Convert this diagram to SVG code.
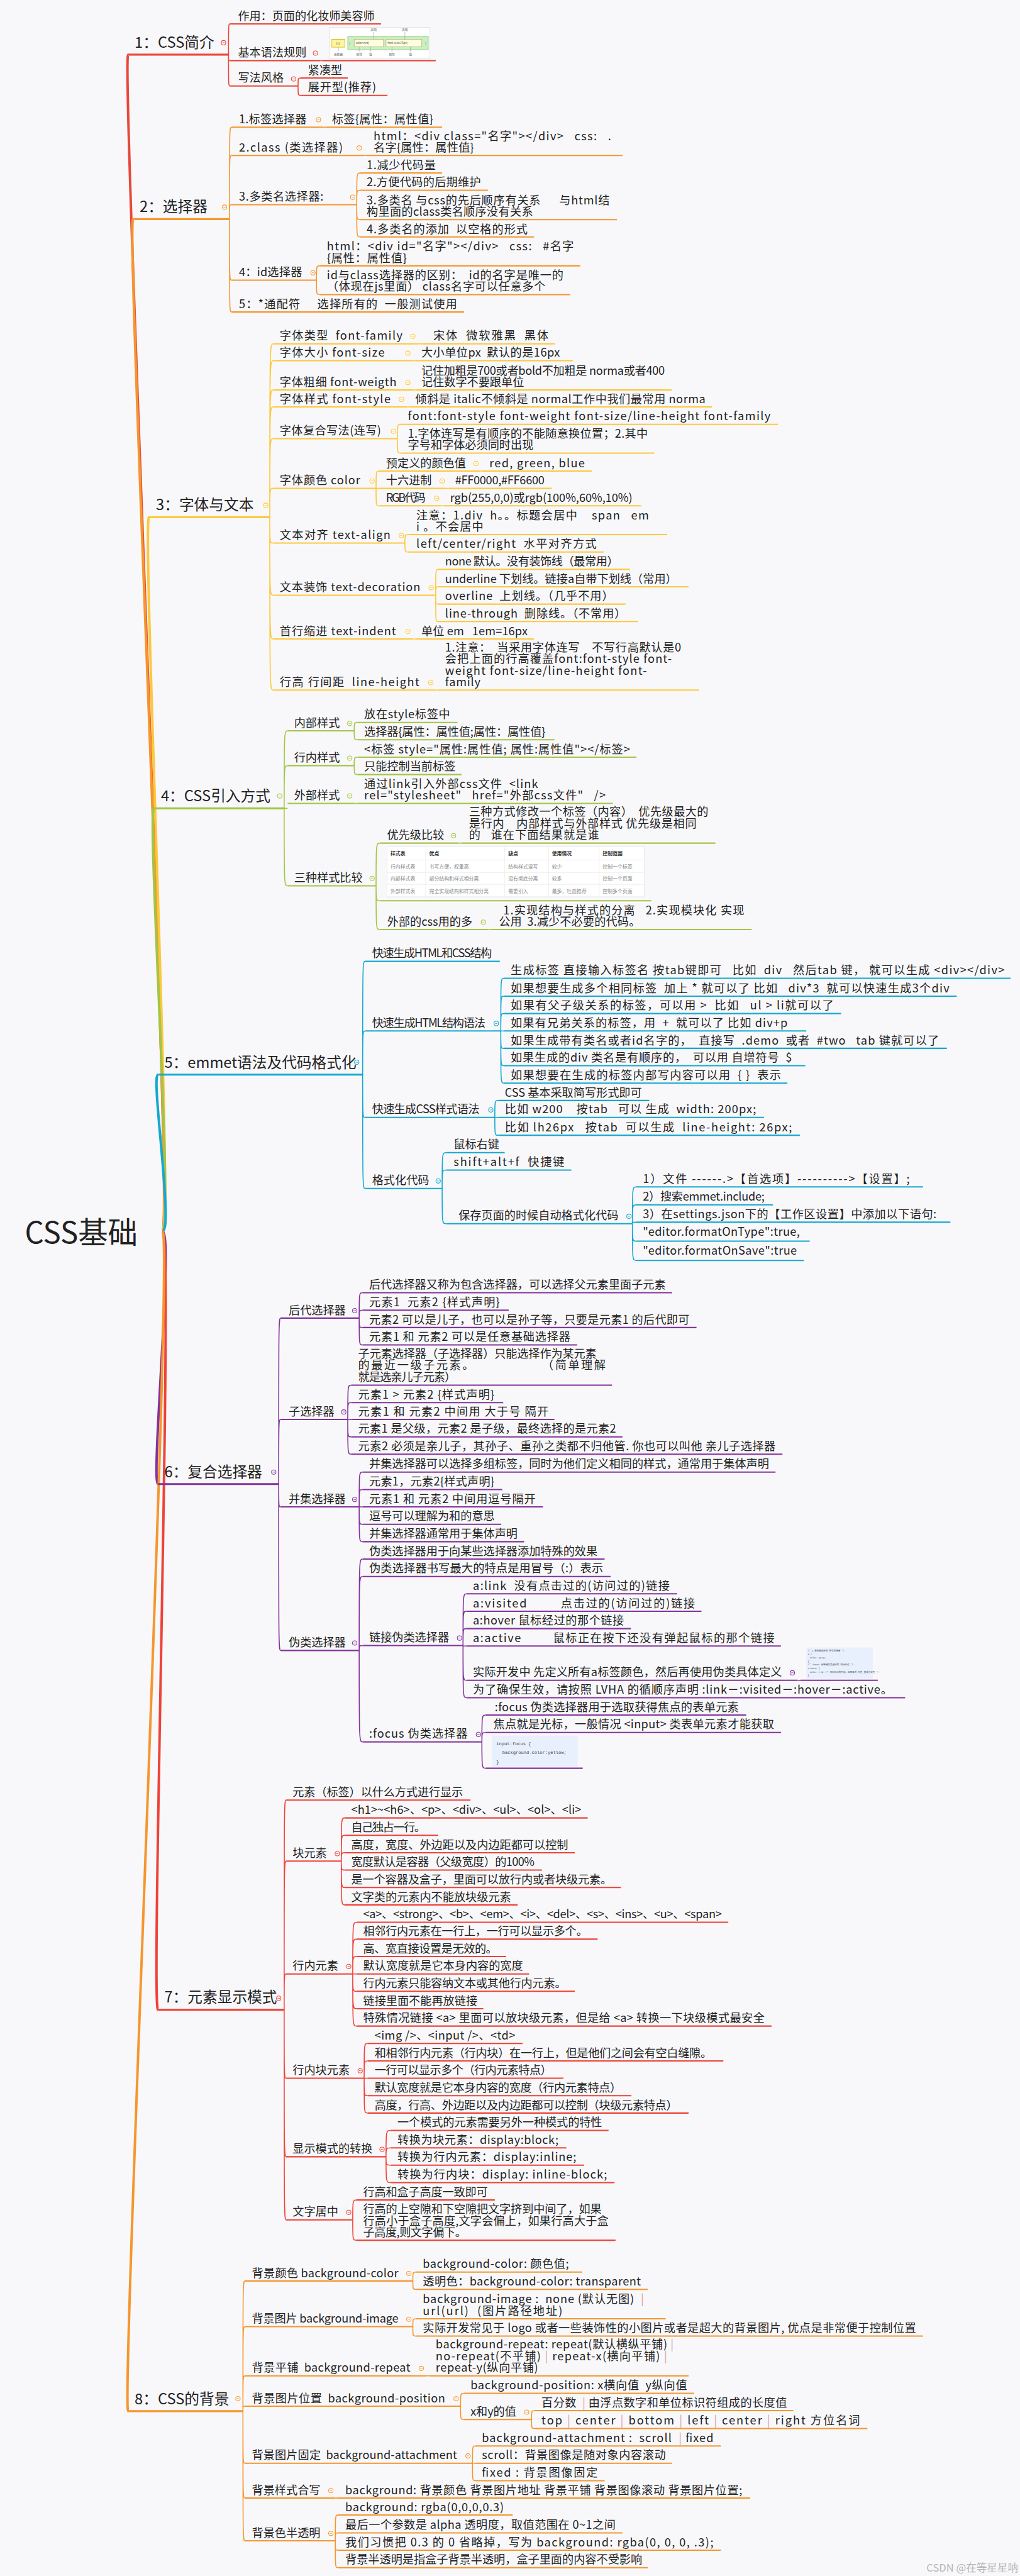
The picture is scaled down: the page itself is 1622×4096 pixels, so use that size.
<svg xmlns="http://www.w3.org/2000/svg" width="1622" height="4096" viewBox="0 0 1622 4096">
<style>
.t{font-family:"Noto Sans CJK SC","Noto Sans",sans-serif;font-size:23px;fill:#222;white-space:pre}
.bt{font-size:30px}
.rt{font-size:60px}
.u{fill:none;stroke:currentColor;stroke-width:2.6}
.bu{stroke-width:4}
.c{fill:none;stroke:currentColor;stroke-width:2}
.r{fill:none;stroke:currentColor;stroke-width:5}
.b1{color:#E8473B}.b2{color:#F5962E}.b3{color:#FCC83C}.b4{color:#A4C447}
.b5{color:#15A8CF}.b6{color:#83339A}.b7{color:#EE4238}.b8{color:#F5962E}
.sep{fill:#D9A0A0}
.sm{font-family:"Noto Sans CJK SC",sans-serif;font-size:6px;fill:#555}
.tb{font-family:"Noto Sans CJK SC",sans-serif;font-size:10px;fill:#888}
.tbh{font-family:"Noto Sans CJK SC",sans-serif;font-size:10px;fill:#333;font-weight:bold}
.code{font-family:"Liberation Mono","Noto Sans CJK SC",monospace;fill:#444}
</style>
<defs>
<g id="m"><circle r="4.5" fill="#fff" stroke="currentColor" stroke-width="1.3"/><path d="M-2.4 0H2.4" stroke="currentColor" stroke-width="1.2"/></g>
</defs>
<rect width="1622" height="4096" fill="#F8F8FA"/>
<g transform="scale(0.79)">

<g id="connectors">
<g class="b1"><path class="r" d="M327 2478C350 2478 243 110 258 110"/><path class="c" d="M460 110C460 48 460 48 463 48M460 110C460 122 460 122 463 122M460 110C460 173 460 173 463 173M645 122H650M600 173C600 157 600 157 605 157M600 173C600 192 600 192 605 192"/></g>
<g class="b2"><path class="r" d="M327 2478C350 2478 253 441 268 441"/><path class="c" d="M462 441C462 256 462 256 466 256M462 441C462 313 462 313 466 313M462 441C462 412 462 412 466 412M462 441C462 564 462 564 466 564M462 441C462 628 462 628 466 628M651 256H656M733 313H738M718 412C718 348 718 348 725 348M718 412C718 383 718 383 725 383M718 412C718 442 718 442 725 442M718 412C718 477 718 477 725 477M637 564C637 535 637 535 644 535M637 564C637 593 637 593 644 593"/></g>
<g class="b3"><path class="r" d="M327 2478C350 2478 285 1041 300 1041"/><path class="c" d="M543 1041C543 692 543 692 550 692M543 1041C543 726 543 726 550 726M543 1041C543 785 543 785 550 785M543 1041C543 819 543 819 550 819M543 1041C543 883 543 883 550 883M543 1041C543 983 543 983 550 983M543 1041C543 1093 543 1093 550 1093M543 1041C543 1198 543 1198 550 1198M543 1041C543 1286 543 1286 550 1286M543 1041C543 1389 543 1389 550 1389M841 692H846M831 726H836M831 785H836M819 819H824M800 883C800 854 800 854 807 854M800 883C800 912 800 912 807 912M757 983C757 948 757 948 763 948M757 983H763M757 983C757 1018 757 1018 763 1018M966 948H971M898 983H903M888 1018H893M815 1093C815 1076 815 1076 822 1076M815 1093C815 1111 815 1111 822 1111M877 1198C877 1146 877 1146 882 1146M877 1198C877 1181 877 1181 882 1181M877 1198C877 1216 877 1216 882 1216M877 1198C877 1251 877 1251 882 1251M831 1286H836M877 1389H882"/></g>
<g class="b4"><path class="r" d="M327 2478C350 2478 295 1627 310 1627"/><path class="c" d="M572 1627C572 1471 572 1471 579 1471M572 1627C572 1541 572 1541 579 1541M572 1627H579M572 1627C572 1783 572 1783 579 1783M713 1471C713 1454 713 1454 720 1454M713 1471C713 1489 713 1489 720 1489M713 1541C713 1524 713 1524 720 1524M713 1541C713 1559 713 1559 720 1559M713 1617H720M757 1783C757 1697 757 1697 765 1697M757 1783C757 1813 757 1813 765 1813M757 1783C757 1871 757 1871 765 1871M923 1697H929M983 1871H988"/></g>
<g class="b5"><path class="r" d="M327 2478C350 2478 303 2163 318 2163"/><path class="c" d="M730 2163C730 1935 730 1935 735 1935M730 2163C730 2075 730 2075 735 2075M730 2163C730 2249 730 2249 735 2249M730 2163C730 2392 730 2392 735 2392M1008 2075C1008 1969 1008 1969 1014 1969M1008 2075C1008 2005 1008 2005 1014 2005M1008 2075C1008 2040 1008 2040 1014 2040M1008 2075H1014M1008 2075C1008 2110 1008 2110 1014 2110M1008 2075C1008 2145 1008 2145 1014 2145M1008 2075C1008 2180 1008 2180 1014 2180M996 2249C996 2215 996 2215 1003 2215M996 2249H1003M996 2249C996 2285 996 2285 1003 2285M890 2392C890 2320 890 2320 898 2320M890 2392C890 2355 890 2355 898 2355M890 2392C890 2463 890 2463 898 2463M1273 2463C1273 2389 1273 2389 1281 2389M1273 2463C1273 2425 1273 2425 1281 2425M1273 2463C1273 2460 1273 2460 1281 2460M1273 2463C1273 2498 1273 2498 1281 2498M1273 2463C1273 2537 1273 2537 1281 2537"/></g>
<g class="b6"><path class="r" d="M327 2478C350 2478 303 2987 318 2987"/><path class="c" d="M561 2987C561 2653 561 2653 565 2653M561 2987C561 2857 561 2857 565 2857M561 2987C561 3033 561 3033 565 3033M561 2987C561 3322 561 3322 565 3322M723 2653C723 2602 723 2602 730 2602M723 2653C723 2637 723 2637 730 2637M723 2653C723 2672 723 2672 730 2672M723 2653C723 2707 723 2707 730 2707M700 2857C700 2788 700 2788 707 2788M700 2857C700 2823 700 2823 707 2823M700 2857H707M700 2857C700 2892 700 2892 707 2892M700 2857C700 2927 700 2927 707 2927M723 3033C723 2963 723 2963 730 2963M723 3033C723 2998 723 2998 730 2998M723 3033H730M723 3033C723 3068 723 3068 730 3068M723 3033C723 3103 723 3103 730 3103M723 3322C723 3138 723 3138 730 3138M723 3322C723 3173 723 3173 730 3173M723 3322C723 3312 723 3312 730 3312M723 3322C723 3506 723 3506 730 3506M932 3312C932 3208 932 3208 939 3208M932 3312C932 3243 932 3243 939 3243M932 3312C932 3278 932 3278 939 3278M932 3312C932 3313 932 3313 939 3313M932 3312C932 3382 932 3382 939 3382M932 3312C932 3417 932 3417 939 3417M1606 3382H1611M970 3506C970 3452 970 3452 978 3452M970 3506C970 3487 970 3487 978 3487M970 3506C970 3559 970 3559 978 3559"/></g>
<g class="b7"><path class="r" d="M327 2478C350 2478 303 4045 318 4045"/><path class="c" d="M572 4045C572 3623 572 3623 576 3623M572 4045C572 3746 572 3746 576 3746M572 4045C572 3973 572 3973 576 3973M572 4045C572 4183 572 4183 576 4183M572 4045C572 4341 572 4341 576 4341M572 4045C572 4468 572 4468 576 4468M687 3746C687 3659 687 3659 694 3659M687 3746C687 3694 687 3694 694 3694M687 3746C687 3729 687 3729 694 3729M687 3746C687 3764 687 3764 694 3764M687 3746C687 3799 687 3799 694 3799M687 3746C687 3834 687 3834 694 3834M710 3973C710 3869 710 3869 718 3869M710 3973C710 3903 710 3903 718 3903M710 3973C710 3938 710 3938 718 3938M710 3973H718M710 3973C710 4008 710 4008 718 4008M710 3973C710 4043 710 4043 718 4043M710 3973C710 4078 710 4078 718 4078M733 4183C733 4113 733 4113 740 4113M733 4183C733 4148 733 4148 740 4148M733 4183H740M733 4183C733 4218 733 4218 740 4218M733 4183C733 4253 733 4253 740 4253M777 4341C777 4288 777 4288 787 4288M777 4341C777 4323 777 4323 787 4323M777 4341C777 4358 777 4358 787 4358M777 4341C777 4393 777 4393 787 4393M710 4468C710 4428 710 4428 718 4428M710 4468C710 4509 710 4509 718 4509"/></g>
<g class="b8"><path class="r" d="M327 2478C350 2478 243 4853 258 4853"/><path class="c" d="M489 4853C489 4591 489 4591 493 4591M489 4853C489 4683 489 4683 493 4683M489 4853C489 4782 489 4782 493 4782M489 4853C489 4843 489 4843 493 4843M489 4853C489 4958 489 4958 493 4958M489 4853C489 5028 489 5028 493 5028M489 4853C489 5114 489 5114 493 5114M831 4591C831 4573 831 4573 838 4573M831 4591C831 4608 831 4608 838 4608M831 4683C831 4667 831 4667 838 4667M831 4683C831 4702 831 4702 838 4702M857 4782H864M927 4843C927 4817 927 4817 934 4817M927 4843C927 4870 927 4870 934 4870M1070 4870C1070 4852 1070 4852 1076 4852M1070 4870C1070 4888 1070 4888 1076 4888M951 4958C951 4923 951 4923 957 4923M951 4958H957M951 4958C951 4993 951 4993 957 4993M675 5028H680M675 5114C675 5062 675 5062 680 5062M675 5114C675 5098 675 5098 680 5098M675 5114C675 5133 675 5133 680 5133M675 5114C675 5168 675 5168 680 5168"/></g>
</g>

<g id="root"><text class="t rt" x="50" y="2502">CSS基础</text></g>

<!-- Branch 1 -->
<g class="b1">
<g id="b1"><text class="t bt" x="271" y="96">1：CSS简介</text><path class="u bu" d="M258 110H460"/><use href="#m" x="450" y="86"/></g>
<g id="n1a"><text class="t" x="479" y="40" textLength="275">作用：页面的化妆师美容师</text><path class="u" d="M463 48H767"/></g>
<g id="n1b"><text class="t" x="479" y="114">基本语法规则</text><path class="u" d="M463 122H645"/><use href="#m" x="635" y="107"/></g>
<g id="n1b1"><path class="u" d="M650 122H877"/>
<rect x="664" y="55" width="201" height="62" fill="#fff" stroke="#ddd"/>
<rect x="700" y="73" width="162" height="27" fill="#C8F0C0" stroke="#8BC48A"/>
<rect x="668" y="79" width="26" height="16" fill="#FFF59D" stroke="#C8B400"/>
<rect x="713" y="79" width="59" height="15" fill="#FFFDE0" stroke="#B8B070"/>
<rect x="777" y="79" width="72" height="15" fill="#FFFDE0" stroke="#B8B070"/>
<path d="M752 64V79M815 64V79M681 95V104M723 94V104M746 94V104M789 94V104M826 94V104" stroke="#999" stroke-width="0.8"/>
<text class="sm" x="677" y="90">h1</text><text class="sm" x="703" y="90">{</text><text class="sm" x="856" y="90">}</text>
<text class="sm" x="716" y="89">color:red;</text><text class="sm" x="780" y="89">font-size:25px;</text>
<text class="sm" x="746" y="62">声明</text><text class="sm" x="809" y="62">声明</text>
<text class="sm" x="672" y="112">选择器</text><text class="sm" x="717" y="112">属性</text><text class="sm" x="743" y="112">值</text><text class="sm" x="783" y="112">属性</text><text class="sm" x="823" y="112">值</text>
</g>
<g id="n1c"><text class="t" x="479" y="165">写法风格</text><path class="u" d="M463 173H600"/><use href="#m" x="591" y="159"/></g>
<g id="n1c1"><text class="t" x="620" y="149">紧凑型</text><path class="u" d="M605 157H700"/></g>
<g id="n1c2"><text class="t" x="620" y="184" textLength="137">展开型(推荐)</text><path class="u" d="M605 192H780"/></g>
</g>

<!-- Branch 2 -->
<g class="b2">
<g id="b2"><text class="t bt" x="281" y="427">2：选择器</text><path class="u bu" d="M268 441H462"/><use href="#m" x="452" y="417"/></g>
<g id="n2a"><text class="t" x="481" y="248" textLength="136">1.标签选择器</text><path class="u" d="M466 256H651"/><use href="#m" x="641" y="241"/></g>
<g id="n2a1"><text class="t" x="668" y="248" textLength="204">标签{属性：属性值}</text><path class="u" d="M656 256H890"/></g>
<g id="n2b"><text class="t" x="481" y="305" textLength="209">2.class (类选择器)</text><path class="u" d="M466 313H733"/><use href="#m" x="723" y="298"/></g>
<g id="n2b1"><text class="t"><tspan x="752" y="282" textLength="478">html：&lt;div class="名字"&gt;&lt;/div&gt;   css:   .</tspan><tspan x="752" dy="23.3" textLength="202">名字{属性：属性值}</tspan></text><path class="u" d="M738 313H1253"/></g>
<g id="n2c"><text class="t" x="481" y="404" textLength="170">3.多类名选择器:</text><path class="u" d="M466 412H718"/><use href="#m" x="710" y="397"/></g>
<g id="n2c1"><text class="t" x="738" y="340" textLength="139">1.减少代码量</text><path class="u" d="M725 348H890"/></g>
<g id="n2c2"><text class="t" x="738" y="375" textLength="230">2.方便代码的后期维护</text><path class="u" d="M725 383H982"/></g>
<g id="n2c3"><text class="t"><tspan x="738" y="411" textLength="489">3.多类名 与css的先后顺序有关系      与html结</tspan><tspan x="738" dy="23.3" textLength="335">构里面的class类名顺序没有关系</tspan></text><path class="u" d="M725 442H1242"/></g>
<g id="n2c4"><text class="t" x="738" y="469" textLength="324">4.多类名的添加  以空格的形式</text><path class="u" d="M725 477H1075"/></g>
<g id="n2d"><text class="t" x="481" y="556" textLength="127">4：id选择器</text><path class="u" d="M466 564H637"/><use href="#m" x="630" y="549"/></g>
<g id="n2d1"><text class="t"><tspan x="658" y="504" textLength="497">html：&lt;div id="名字"&gt;&lt;/div&gt;   css:   #名字</tspan><tspan x="658" dy="23.3" textLength="161">{属性：属性值}</tspan></text><path class="u" d="M644 535H1168"/></g>
<g id="n2d2"><text class="t"><tspan x="658" y="562" textLength="476">id与class选择器的区别：  id的名字是唯一的</tspan><tspan x="658" dy="23.3" textLength="440">（体现在js里面） class名字可以任意多个</tspan></text><path class="u" d="M644 593H1148"/></g>
<g id="n2e"><text class="t" x="481" y="620" textLength="439">5：*通配符     选择所有的  一般测试使用</text><path class="u" d="M466 628H934"/></g>
</g>

<!-- Branch 3 -->
<g class="b3">
<g id="b3"><text class="t bt" x="314" y="1027">3：字体与文本</text><path class="u bu" d="M300 1041H543"/><use href="#m" x="535" y="1017"/></g>
<g id="n3a"><text class="t" x="563" y="684" textLength="247">字体类型  font-family</text><path class="u" d="M550 692H841"/><use href="#m" x="831" y="677"/></g>
<g id="n3a1"><text class="t" x="872" y="684" textLength="232">宋体  微软雅黑  黑体</text><path class="u" d="M846 692H1117"/></g>
<g id="n3b"><text class="t" x="563" y="718" textLength="211">字体大小 font-size</text><path class="u" d="M550 726H831"/><use href="#m" x="821" y="711"/></g>
<g id="n3b1"><text class="t" x="848" y="718" textLength="279">大小单位px  默认的是16px</text><path class="u" d="M836 726H1153"/></g>
<g id="n3c"><text class="t" x="563" y="777" textLength="235">字体粗细 font-weigth</text><path class="u" d="M550 785H831"/><use href="#m" x="821" y="770"/></g>
<g id="n3c1"><text class="t"><tspan x="848" y="754" textLength="490">记住加粗是700或者bold不加粗是 norma或者400</tspan><tspan x="848" dy="23.3">记住数字不要跟单位</tspan></text><path class="u" d="M836 785H1352"/></g>
<g id="n3d"><text class="t" x="563" y="811" textLength="223">字体样式 font-style</text><path class="u" d="M550 819H819"/><use href="#m" x="808" y="804"/></g>
<g id="n3d1"><text class="t" x="836" y="811" textLength="584">倾斜是 italic不倾斜是 normal工作中我们最常用 norma</text><path class="u" d="M824 819H1433"/></g>
<g id="n3e"><text class="t" x="563" y="875" textLength="204">字体复合写法(连写)</text><path class="u" d="M550 883H800"/><use href="#m" x="792" y="868"/></g>
<g id="n3e1"><text class="t" x="821" y="846" textLength="730">font:font-style font-weight font-size/line-height font-family</text><path class="u" d="M807 854H1566"/></g>
<g id="n3e2"><text class="t"><tspan x="821" y="881" textLength="483">1.字体连写是有顺序的不能随意换位置；2.其中</tspan><tspan x="821" dy="23.3">字号和字体必须同时出现</tspan></text><path class="u" d="M807 912H1317"/></g>
<g id="n3f"><text class="t" x="563" y="975" textLength="162">字体颜色 color</text><path class="u" d="M550 983H757"/><use href="#m" x="749" y="968"/></g>
<g id="n3f1"><text class="t" x="777" y="940">预定义的颜色值</text><path class="u" d="M763 948H966"/><use href="#m" x="958" y="933"/></g>
<g id="n3f1a"><text class="t" x="985" y="940" textLength="192">red, green, blue</text><path class="u" d="M971 948H1191"/></g>
<g id="n3f2"><text class="t" x="777" y="975">十六进制</text><path class="u" d="M763 983H898"/><use href="#m" x="890" y="968"/></g>
<g id="n3f2a"><text class="t" x="916" y="975" textLength="180">#FF0000,#FF6600</text><path class="u" d="M903 983H1111"/></g>
<g id="n3f3"><text class="t" x="777" y="1010" textLength="80">RGB代码</text><path class="u" d="M763 1018H888"/><use href="#m" x="879" y="1003"/></g>
<g id="n3f3a"><text class="t" x="906" y="1010" textLength="367">rgb(255,0,0)或rgb(100%,60%,10%)</text><path class="u" d="M893 1018H1291"/></g>
<g id="n3g"><text class="t" x="563" y="1085" textLength="223">文本对齐 text-align</text><path class="u" d="M550 1093H815"/><use href="#m" x="808" y="1078"/></g>
<g id="n3g1"><text class="t"><tspan x="838" y="1045" textLength="468">注意：1.div  h。。标题会居中    span   em</tspan><tspan x="838" dy="23.3" textLength="135">i 。不会居中</tspan></text><path class="u" d="M822 1076H1343"/></g>
<g id="n3g2"><text class="t" x="838" y="1103" textLength="363">left/center/right  水平对齐方式</text><path class="u" d="M822 1111H1215"/></g>
<g id="n3h"><text class="t" x="563" y="1190" textLength="283">文本装饰 text-decoration</text><path class="u" d="M550 1198H877"/><use href="#m" x="868" y="1183"/></g>
<g id="n3h1"><text class="t" x="896" y="1138" textLength="349">none 默认。没有装饰线（最常用）</text><path class="u" d="M882 1146H1268"/></g>
<g id="n3h2"><text class="t" x="896" y="1173" textLength="467">underline 下划线。链接a自带下划线（常用）</text><path class="u" d="M882 1181H1386"/></g>
<g id="n3h3"><text class="t" x="896" y="1208" textLength="339">overline  上划线。（几乎不用）</text><path class="u" d="M882 1216H1259"/></g>
<g id="n3h4"><text class="t" x="896" y="1243" textLength="364">line-through  删除线。（不常用）</text><path class="u" d="M882 1251H1284"/></g>
<g id="n3i"><text class="t" x="563" y="1278" textLength="234">首行缩进 text-indent</text><path class="u" d="M550 1286H831"/><use href="#m" x="821" y="1271"/></g>
<g id="n3i1"><text class="t" x="848" y="1278" textLength="214">单位 em   1em=16px</text><path class="u" d="M836 1286H1075"/></g>
<g id="n3j"><text class="t" x="563" y="1381" textLength="281">行高 行间距  line-height</text><path class="u" d="M550 1389H877"/><use href="#m" x="867" y="1374"/></g>
<g id="n3j1"><text class="t"><tspan x="896" y="1311" textLength="475">1.注意：  当采用字体连写    不写行高默认是0</tspan><tspan x="896" dy="23.3" textLength="456">会把上面的行高覆盖font:font-style font-</tspan><tspan x="896" dy="23.3" textLength="406">weight font-size/line-height font-</tspan><tspan x="896" dy="23.3" textLength="71">family</tspan></text><path class="u" d="M882 1389H1407"/></g>
</g>

<!-- Branch 4 -->
<g class="b4">
<g id="b4"><text class="t bt" x="324" y="1613">4：CSS引入方式</text><path class="u bu" d="M310 1627H572"/><use href="#m" x="563" y="1602"/></g>
<g id="n4a"><text class="t" x="592" y="1463">内部样式</text><path class="u" d="M579 1471H713"/><use href="#m" x="704" y="1456"/></g>
<g id="n4a1"><text class="t" x="733" y="1446" textLength="173">放在style标签中</text><path class="u" d="M720 1454H921"/></g>
<g id="n4a2"><text class="t" x="733" y="1481" textLength="365">选择器{属性：属性值;属性：属性值}</text><path class="u" d="M720 1489H1116"/></g>
<g id="n4b"><text class="t" x="592" y="1533">行内样式</text><path class="u" d="M579 1541H713"/><use href="#m" x="704" y="1526"/></g>
<g id="n4b1"><text class="t" x="733" y="1516" textLength="535">&lt;标签 style="属性:属性值; 属性:属性值"&gt;&lt;/标签&gt;</text><path class="u" d="M720 1524H1281"/></g>
<g id="n4b2"><text class="t" x="733" y="1551">只能控制当前标签</text><path class="u" d="M720 1559H929"/></g>
<g id="n4c"><text class="t" x="592" y="1609">外部样式</text><path class="u" d="M579 1617H713"/><use href="#m" x="704" y="1602"/></g>
<g id="n4c1"><text class="t"><tspan x="733" y="1586" textLength="350">通过link引入外部css文件  &lt;link</tspan><tspan x="733" dy="23.3" textLength="486">rel="stylesheet"   href="外部css文件"   /&gt;</tspan></text><path class="u" d="M720 1617H1234"/></g>
<g id="n4d"><text class="t" x="592" y="1775">三种样式比较</text><path class="u" d="M579 1783H757"/><use href="#m" x="749" y="1768"/></g>
<g id="n4d1"><text class="t" x="779" y="1689">优先级比较</text><path class="u" d="M765 1697H923"/><use href="#m" x="913" y="1682"/></g>
<g id="n4d1a"><text class="t"><tspan x="944" y="1642" textLength="482">三种方式修改一个标签（内容）  优先级最大的</tspan><tspan x="944" dy="23.3" textLength="458">是行内    内部样式与外部样式 优先级是相同</tspan><tspan x="944" dy="23.3" textLength="262">的   谁在下面结果就是谁</tspan></text><path class="u" d="M929 1697H1440"/></g>
<g id="n4d2"><path class="u" d="M765 1813H1311"/>
<rect x="779" y="1704" width="518" height="101" fill="#fff" stroke="#e4e4e4"/>
<path d="M779 1731H1297M779 1756H1297M779 1780H1297M857 1704V1805M1016 1704V1805M1104 1704V1805M1206 1704V1805" stroke="#e8e8e8" stroke-width="1"/>
<text class="tbh" x="786" y="1722">样式表</text><text class="tbh" x="864" y="1722">优点</text><text class="tbh" x="1023" y="1722">缺点</text><text class="tbh" x="1111" y="1722">使用情况</text><text class="tbh" x="1213" y="1722">控制范围</text>
<text class="tb" x="786" y="1748">行内样式表</text><text class="tb" x="864" y="1748">书写方便，权重高</text><text class="tb" x="1023" y="1748">结构样式混写</text><text class="tb" x="1111" y="1748">较少</text><text class="tb" x="1213" y="1748">控制一个标签</text>
<text class="tb" x="786" y="1772">内部样式表</text><text class="tb" x="864" y="1772">部分结构和样式相分离</text><text class="tb" x="1023" y="1772">没有彻底分离</text><text class="tb" x="1111" y="1772">较多</text><text class="tb" x="1213" y="1772">控制一个页面</text>
<text class="tb" x="786" y="1797">外部样式表</text><text class="tb" x="864" y="1797">完全实现结构和样式相分离</text><text class="tb" x="1023" y="1797">需要引入</text><text class="tb" x="1111" y="1797">最多，吐血推荐</text><text class="tb" x="1213" y="1797">控制多个页面</text>
</g>
<g id="n4d3"><text class="t" x="779" y="1863" textLength="172">外部的css用的多</text><path class="u" d="M765 1871H983"/><use href="#m" x="973" y="1856"/></g>
<g id="n4d3a"><text class="t"><tspan x="1013" y="1840" textLength="485">1.实现结构与样式的分离   2.实现模块化 实现</tspan><tspan x="1004" dy="23.3" textLength="285">公用  3.减少不必要的代码。</tspan></text><path class="u" d="M988 1871H1513"/></g>
</g>

<!-- Branch 5 -->
<g class="b5">
<g id="b5"><text class="t bt" x="331" y="2149">5：emmet语法及代码格式化</text><path class="u bu" d="M318 2163H730"/><use href="#m" x="718" y="2138"/></g>
<g id="n5a"><text class="t" x="749" y="1927" textLength="241">快速生成HTML和CSS结构</text><path class="u" d="M735 1935H1006"/></g>
<g id="n5b"><text class="t" x="749" y="2067" textLength="228">快速生成HTML结构语法</text><path class="u" d="M735 2075H1008"/><use href="#m" x="999" y="2060"/></g>
<g id="n5b1"><text class="t" x="1028" y="1961" textLength="994">生成标签 直接输入标签名 按tab键即可   比如  div   然后tab 键， 就可以生成 &lt;div&gt;&lt;/div&gt;</text><path class="u" d="M1014 1969H2034"/></g>
<g id="n5b2"><text class="t" x="1028" y="1997" textLength="883">如果想要生成多个相同标签  加上 * 就可以了 比如   div*3  就可以快速生成3个div</text><path class="u" d="M1014 2005H1926"/></g>
<g id="n5b3"><text class="t" x="1028" y="2032" textLength="650">如果有父子级关系的标签，可以用 &gt;  比如   ul &gt; li就可以了</text><path class="u" d="M1014 2040H1693"/></g>
<g id="n5b4"><text class="t" x="1028" y="2067" textLength="557">如果有兄弟关系的标签，用  +  就可以了 比如 div+p</text><path class="u" d="M1014 2075H1623"/></g>
<g id="n5b5"><text class="t" x="1028" y="2102" textLength="862">如果生成带有类名或者id名字的，  直接写  .demo  或者  #two   tab 键就可以了</text><path class="u" d="M1014 2110H1906"/></g>
<g id="n5b6"><text class="t" x="1028" y="2137" textLength="566">如果生成的div 类名是有顺序的，  可以用 自增符号  $</text><path class="u" d="M1014 2145H1621"/></g>
<g id="n5b7"><text class="t" x="1028" y="2172" textLength="544">如果想要在生成的标签内部写内容可以用  { }  表示</text><path class="u" d="M1014 2180H1585"/></g>
<g id="n5c"><text class="t" x="749" y="2241" textLength="216">快速生成CSS样式语法</text><path class="u" d="M735 2249H996"/><use href="#m" x="988" y="2234"/></g>
<g id="n5c1"><text class="t" x="1016" y="2207" textLength="276">CSS 基本采取简写形式即可</text><path class="u" d="M1003 2215H1307"/></g>
<g id="n5c2"><text class="t" x="1016" y="2241" textLength="506">比如 w200    按tab   可以 生成  width: 200px;</text><path class="u" d="M1003 2249H1538"/></g>
<g id="n5c3"><text class="t" x="1016" y="2277" textLength="578">比如 lh26px   按tab  可以生成  line-height: 26px;</text><path class="u" d="M1003 2285H1610"/></g>
<g id="n5d"><text class="t" x="749" y="2384">格式化代码</text><path class="u" d="M735 2392H890"/><use href="#m" x="882" y="2377"/></g>
<g id="n5d1"><text class="t" x="913" y="2312">鼠标右键</text><path class="u" d="M898 2320H1016"/></g>
<g id="n5d2"><text class="t" x="913" y="2347" textLength="223">shift+alt+f  快捷键</text><path class="u" d="M898 2355H1150"/></g>
<g id="n5d3"><text class="t" x="923" y="2455">保存页面的时候自动格式化代码</text><path class="u" d="M898 2463H1273"/><use href="#m" x="1266" y="2448"/></g>
<g id="n5d3a"><text class="t" x="1294" y="2381" textLength="537">1）文件 ------.&gt;【首选项】----------&gt;【设置】;</text><path class="u" d="M1281 2389H1858"/></g>
<g id="n5d3b"><text class="t" x="1294" y="2417" textLength="245">2）搜索emmet.include;</text><path class="u" d="M1281 2425H1556"/></g>
<g id="n5d3c"><text class="t" x="1294" y="2452" textLength="591">3）在settings.json下的【工作区设置】中添加以下语句:</text><path class="u" d="M1281 2460H1913"/></g>
<g id="n5d3d"><text class="t" x="1294" y="2487" textLength="316">"editor.formatOnType":true,</text><path class="u" d="M1281 2498H1630"/></g>
<g id="n5d3e"><text class="t" x="1294" y="2525" textLength="310">"editor.formatOnSave":true</text><path class="u" d="M1281 2537H1618"/></g>
</g>

<!-- Branch 6 -->
<g class="b6">
<g id="b6"><text class="t bt" x="331" y="2973">6：复合选择器</text><path class="u bu" d="M318 2987H561"/><use href="#m" x="551" y="2963"/></g>
<g id="n6a"><text class="t" x="581" y="2645">后代选择器</text><path class="u" d="M565 2653H723"/><use href="#m" x="714" y="2638"/></g>
<g id="n6a1"><text class="t" x="743" y="2594" textLength="597">后代选择器又称为包含选择器，可以选择父元素里面子元素</text><path class="u" d="M730 2602H1353"/></g>
<g id="n6a2"><text class="t" x="743" y="2629" textLength="263">元素1  元素2 {样式声明}</text><path class="u" d="M730 2637H1024"/></g>
<g id="n6a3"><text class="t" x="743" y="2664" textLength="645">元素2 可以是儿子，也可以是孙子等，只要是元素1 的后代即可</text><path class="u" d="M730 2672H1402"/></g>
<g id="n6a4"><text class="t" x="743" y="2699" textLength="405">元素1 和 元素2 可以是任意基础选择器</text><path class="u" d="M730 2707H1162"/></g>
<g id="n6b"><text class="t" x="581" y="2849">子选择器</text><path class="u" d="M565 2857H700"/><use href="#m" x="692" y="2842"/></g>
<g id="n6b1"><text class="t"><tspan x="721" y="2733" textLength="480">子元素选择器（子选择器）只能选择作为某元素</tspan><tspan x="721" dy="23.3" textLength="498">的最近一级子元素。                （简单理解</tspan><tspan x="721" dy="23.3" textLength="197">就是选亲儿子元素）</tspan></text><path class="u" d="M707 2788H1232"/></g>
<g id="n6b2"><text class="t" x="721" y="2815" textLength="274">元素1 &gt; 元素2 {样式声明}</text><path class="u" d="M707 2823H1013"/></g>
<g id="n6b3"><text class="t" x="721" y="2849" textLength="383">元素1 和 元素2 中间用 大于号 隔开</text><path class="u" d="M707 2857H1116"/></g>
<g id="n6b4"><text class="t" x="721" y="2884" textLength="519">元素1 是父级，元素2 是子级，最终选择的是元素2</text><path class="u" d="M707 2892H1253"/></g>
<g id="n6b5"><text class="t" x="721" y="2919" textLength="840">元素2 必须是亲儿子，其孙子、重孙之类都不归他管. 你也可以叫他 亲儿子选择器</text><path class="u" d="M707 2927H1575"/></g>
<g id="n6c"><text class="t" x="581" y="3025">并集选择器</text><path class="u" d="M565 3033H723"/><use href="#m" x="714" y="3018"/></g>
<g id="n6c1"><text class="t" x="743" y="2955" textLength="805">并集选择器可以选择多组标签，同时为他们定义相同的样式，通常用于集体声明</text><path class="u" d="M730 2963H1561"/></g>
<g id="n6c2"><text class="t" x="743" y="2990" textLength="252">元素1，元素2{样式声明}</text><path class="u" d="M730 2998H1011"/></g>
<g id="n6c3"><text class="t" x="743" y="3025" textLength="335">元素1 和 元素2 中间用逗号隔开</text><path class="u" d="M730 3033H1093"/></g>
<g id="n6c4"><text class="t" x="743" y="3060">逗号可以理解为和的意思</text><path class="u" d="M730 3068H1009"/></g>
<g id="n6c5"><text class="t" x="743" y="3095">并集选择器通常用于集体声明</text><path class="u" d="M730 3103H1055"/></g>
<g id="n6d"><text class="t" x="581" y="3314">伪类选择器</text><path class="u" d="M565 3322H723"/><use href="#m" x="714" y="3307"/></g>
<g id="n6d1"><text class="t" x="743" y="3130">伪类选择器用于向某些选择器添加特殊的效果</text><path class="u" d="M730 3138H1217"/></g>
<g id="n6d2"><text class="t" x="743" y="3165" textLength="471">伪类选择器书写最大的特点是用冒号（:）表示</text><path class="u" d="M730 3173H1229"/></g>
<g id="n6d3"><text class="t" x="743" y="3304">链接伪类选择器</text><path class="u" d="M730 3312H932"/><use href="#m" x="925" y="3297"/></g>
<g id="n6d3a"><text class="t" x="952" y="3200" textLength="396">a:link  没有点击过的(访问过的)链接</text><path class="u" d="M939 3208H1363"/></g>
<g id="n6d3b"><text class="t" x="952" y="3235" textLength="447">a:visited         点击过的(访问过的)链接</text><path class="u" d="M939 3243H1412"/></g>
<g id="n6d3c"><text class="t" x="952" y="3270" textLength="304">a:hover 鼠标经过的那个链接</text><path class="u" d="M939 3278H1270"/></g>
<g id="n6d3d"><text class="t" x="952" y="3305" textLength="607">a:active         鼠标正在按下还没有弹起鼠标的那个链接</text><path class="u" d="M939 3313H1572"/></g>
<g id="n6d3e"><text class="t" x="952" y="3374" textLength="622">实际开发中 先定义所有a标签颜色，然后再使用伪类具体定义</text><path class="u" d="M939 3382H1606"/><use href="#m" x="1595" y="3367"/></g>
<g id="n6d3e1"><path class="u" d="M1611 3382H1767"/><rect x="1623" y="3316" width="134" height="63" fill="#E8F0FE"/>
<g class="code" font-size="4.5"><text x="1626" y="3324">/* a 是标签选择器  所有的链接 */</text><text x="1626" y="3331">a {</text><text x="1630" y="3338">color: gray;</text><text x="1626" y="3345">}</text><text x="1626" y="3352">/* :hover 是链接伪类选择器 鼠标经过 */</text><text x="1626" y="3359">a:hover {</text><text x="1630" y="3367">color: red; /* 鼠标经过的时候，由原来的 灰色 变成了红色 */</text><text x="1626" y="3374">}</text></g></g>
<g id="n6d3f"><text class="t" x="952" y="3409" textLength="844">为了确保生效，请按照 LVHA 的循顺序声明 :link－:visited－:hover－:active。</text><path class="u" d="M939 3417H1822"/></g>
<g id="n6d4"><text class="t" x="743" y="3498" textLength="198">:focus 伪类选择器</text><path class="u" d="M730 3506H970"/><use href="#m" x="963" y="3491"/></g>
<g id="n6d4a"><text class="t" x="996" y="3444" textLength="491">:focus 伪类选择器用于选取获得焦点的表单元素</text><path class="u" d="M978 3452H1502"/></g>
<g id="n6d4b"><text class="t" x="993" y="3479" textLength="565">焦点就是光标，一般情况 &lt;input&gt; 类表单元素才能获取</text><path class="u" d="M978 3487H1572"/></g>
<g id="n6d4c"><path class="u" d="M978 3559H1173"/><rect x="990" y="3493" width="173" height="64" fill="#E8F0FE"/>
<g class="code" font-size="9"><text x="999" y="3513">input:focus {</text><text x="1011" y="3531">background-color:yellow;</text><text x="999" y="3549">}</text></g></g>
</g>

<!-- Branch 7 -->
<g class="b7">
<g id="b7"><text class="t bt" x="331" y="4031">7：元素显示模式</text><path class="u bu" d="M318 4045H572"/><use href="#m" x="561" y="4022"/></g>
<g id="n7a"><text class="t" x="589" y="3615" textLength="343">元素（标签）以什么方式进行显示</text><path class="u" d="M576 3623H947"/></g>
<g id="n7b"><text class="t" x="589" y="3738">块元素</text><path class="u" d="M576 3746H687"/><use href="#m" x="679" y="3731"/></g>
<g id="n7b1"><text class="t" x="707" y="3651" textLength="463">&lt;h1&gt;~&lt;h6&gt;、&lt;p&gt;、&lt;div&gt;、&lt;ul&gt;、&lt;ol&gt;、&lt;li&gt;</text><path class="u" d="M694 3659H1183"/></g>
<g id="n7b2"><text class="t" x="707" y="3686" textLength="150">自己独占一行。</text><path class="u" d="M694 3694H882"/></g>
<g id="n7b3"><text class="t" x="707" y="3721">高度，宽度、外边距以及内边距都可以控制</text><path class="u" d="M694 3729H1157"/></g>
<g id="n7b4"><text class="t" x="707" y="3756" textLength="369">宽度默认是容器（父级宽度）的100%</text><path class="u" d="M694 3764H1091"/></g>
<g id="n7b5"><text class="t" x="707" y="3791" textLength="525">是一个容器及盒子，里面可以放行内或者块级元素。</text><path class="u" d="M694 3799H1250"/></g>
<g id="n7b6"><text class="t" x="707" y="3826">文字类的元素内不能放块级元素</text><path class="u" d="M694 3834H1042"/></g>
<g id="n7c"><text class="t" x="589" y="3965">行内元素</text><path class="u" d="M576 3973H710"/><use href="#m" x="702" y="3958"/></g>
<g id="n7c1"><text class="t" x="731" y="3861" textLength="722">&lt;a&gt;、&lt;strong&gt;、&lt;b&gt;、&lt;em&gt;、&lt;i&gt;、&lt;del&gt;、&lt;s&gt;、&lt;ins&gt;、&lt;u&gt;、&lt;span&gt;</text><path class="u" d="M718 3869H1466"/></g>
<g id="n7c2"><text class="t" x="731" y="3895" textLength="452">相邻行内元素在一行上，一行可以显示多个。</text><path class="u" d="M718 3903H1203"/></g>
<g id="n7c3"><text class="t" x="731" y="3930" textLength="270">高、宽直接设置是无效的。</text><path class="u" d="M718 3938H1019"/></g>
<g id="n7c4"><text class="t" x="731" y="3965">默认宽度就是它本身内容的宽度</text><path class="u" d="M718 3973H1065"/></g>
<g id="n7c5"><text class="t" x="731" y="4000" textLength="409">行内元素只能容纳文本或其他行内元素。</text><path class="u" d="M718 4008H1157"/></g>
<g id="n7c6"><text class="t" x="731" y="4035">链接里面不能再放链接</text><path class="u" d="M718 4043H973"/></g>
<g id="n7c7"><text class="t" x="731" y="4070" textLength="808">特殊情况链接 &lt;a&gt; 里面可以放块级元素，但是给 &lt;a&gt; 转换一下块级模式最安全</text><path class="u" d="M718 4078H1553"/></g>
<g id="n7d"><text class="t" x="589" y="4175">行内块元素</text><path class="u" d="M576 4183H733"/><use href="#m" x="725" y="4168"/></g>
<g id="n7d1"><text class="t" x="754" y="4105" textLength="283">&lt;img /&gt;、&lt;input /&gt;、&lt;td&gt;</text><path class="u" d="M740 4113H1052"/></g>
<g id="n7d2"><text class="t" x="754" y="4140" textLength="679">和相邻行内元素（行内块）在一行上，但是他们之间会有空白缝隙。</text><path class="u" d="M740 4148H1456"/></g>
<g id="n7d3"><text class="t" x="754" y="4175" textLength="357">一行可以显示多个（行内元素特点）</text><path class="u" d="M740 4183H1134"/></g>
<g id="n7d4"><text class="t" x="754" y="4210" textLength="497">默认宽度就是它本身内容的宽度（行内元素特点）</text><path class="u" d="M740 4218H1271"/></g>
<g id="n7d5"><text class="t" x="754" y="4245" textLength="610">高度，行高、外边距以及内边距都可以控制（块级元素特点）</text><path class="u" d="M740 4253H1386"/></g>
<g id="n7e"><text class="t" x="589" y="4333">显示模式的转换</text><path class="u" d="M576 4341H777"/><use href="#m" x="769" y="4326"/></g>
<g id="n7e1"><text class="t" x="800" y="4280" textLength="412">一个模式的元素需要另外一种模式的特性</text><path class="u" d="M787 4288H1225"/></g>
<g id="n7e2"><text class="t" x="800" y="4315" textLength="324">转换为块元素：display:block;</text><path class="u" d="M787 4323H1140"/></g>
<g id="n7e3"><text class="t" x="800" y="4350" textLength="360">转换为行内元素：display:inline;</text><path class="u" d="M787 4358H1176"/></g>
<g id="n7e4"><text class="t" x="800" y="4385" textLength="422">转换为行内块：display: inline-block;</text><path class="u" d="M787 4393H1237"/></g>
<g id="n7f"><text class="t" x="589" y="4460">文字居中</text><path class="u" d="M576 4468H710"/><use href="#m" x="702" y="4453"/></g>
<g id="n7f1"><text class="t" x="731" y="4420" textLength="251">行高和盒子高度一致即可</text><path class="u" d="M718 4428H996"/></g>
<g id="n7f2"><text class="t"><tspan x="731" y="4455" textLength="480">行高的上空隙和下空隙把文字挤到中间了，如果</tspan><tspan x="731" dy="23.3" textLength="494">行高小于盒子高度,文字会偏上，如果行高大于盒</tspan><tspan x="731" dy="23.3" textLength="208">子高度,则文字偏下。</tspan></text><path class="u" d="M718 4509H1239"/></g>
</g>

<!-- Branch 8 -->
<g class="b8">
<g id="b8"><text class="t bt" x="271" y="4839">8：CSS的背景</text><path class="u bu" d="M258 4853H489"/><use href="#m" x="479" y="4828"/></g>
<g id="n8a"><text class="t" x="507" y="4583" textLength="295">背景颜色 background-color</text><path class="u" d="M493 4591H831"/><use href="#m" x="823" y="4576"/></g>
<g id="n8a1"><text class="t" x="851" y="4565" textLength="294">background-color: 颜色值;</text><path class="u" d="M838 4573H1172"/></g>
<g id="n8a2"><text class="t" x="851" y="4600" textLength="439">透明色：background-color: transparent</text><path class="u" d="M838 4608H1304"/></g>
<g id="n8b"><text class="t" x="507" y="4675" textLength="295">背景图片 background-image</text><path class="u" d="M493 4683H831"/><use href="#m" x="823" y="4668"/></g>
<g id="n8b1"><text class="t"><tspan x="851" y="4636" textLength="445">background-image :  none (默认无图)  <tspan class="sep">|</tspan></tspan><tspan x="851" dy="23.3" textLength="281">url(url)  (图片路径地址)</tspan></text><path class="u" d="M838 4667H1340"/></g>
<g id="n8b2"><text class="t" x="851" y="4694" textLength="993">实际开发常见于 logo 或者一些装饰性的小图片或者是超大的背景图片, 优点是非常便于控制位置</text><path class="u" d="M838 4702H1858"/></g>
<g id="n8c"><text class="t" x="507" y="4774" textLength="319">背景平铺  background-repeat</text><path class="u" d="M493 4782H857"/><use href="#m" x="848" y="4767"/></g>
<g id="n8c1"><text class="t"><tspan x="877" y="4727" textLength="479">background-repeat: repeat(默认横纵平铺) <tspan class="sep">|</tspan></tspan><tspan x="877" dy="23.3" textLength="466">no-repeat(不平铺) <tspan class="sep">|</tspan> repeat-x(横向平铺) <tspan class="sep">|</tspan></tspan><tspan x="877" dy="23.3" textLength="206">repeat-y(纵向平铺)</tspan></text><path class="u" d="M864 4782H1386"/></g>
<g id="n8d"><text class="t" x="507" y="4835" textLength="389">背景图片位置  background-position</text><path class="u" d="M493 4843H927"/><use href="#m" x="918" y="4828"/></g>
<g id="n8d1"><text class="t" x="947" y="4809" textLength="436">background-position: x横向值  y纵向值</text><path class="u" d="M934 4817H1397"/></g>
<g id="n8d2"><text class="t" x="947" y="4862" textLength="92">x和y的值</text><path class="u" d="M934 4870H1070"/><use href="#m" x="1060" y="4855"/></g>
<g id="n8d2a"><text class="t" x="1090" y="4844" textLength="494">百分数  <tspan class="sep">|</tspan> 由浮点数字和单位标识符组成的长度值</text><path class="u" d="M1076 4852H1597"/></g>
<g id="n8d2b"><text class="t" x="1090" y="4880" textLength="641">top <tspan class="sep">|</tspan> center <tspan class="sep">|</tspan> bottom <tspan class="sep">|</tspan> left <tspan class="sep">|</tspan> center <tspan class="sep">|</tspan> right 方位名词</text><path class="u" d="M1076 4888H1746"/></g>
<g id="n8e"><text class="t" x="507" y="4950" textLength="413">背景图片固定  background-attachment</text><path class="u" d="M493 4958H951"/><use href="#m" x="942" y="4943"/></g>
<g id="n8e1"><text class="t" x="970" y="4915" textLength="466">background-attachment :  scroll  <tspan class="sep">|</tspan> fixed</text><path class="u" d="M957 4923H1451"/></g>
<g id="n8e2"><text class="t" x="970" y="4950" textLength="370">scroll：背景图像是随对象内容滚动</text><path class="u" d="M957 4958H1353"/></g>
<g id="n8e3"><text class="t" x="970" y="4985" textLength="233">fixed : 背景图像固定</text><path class="u" d="M957 4993H1217"/></g>
<g id="n8f"><text class="t" x="507" y="5020">背景样式合写</text><path class="u" d="M493 5028H675"/><use href="#m" x="666" y="5013"/></g>
<g id="n8f1"><text class="t" x="695" y="5020" textLength="799">background: 背景颜色 背景图片地址 背景平铺 背景图像滚动 背景图片位置;</text><path class="u" d="M680 5028H1510"/></g>
<g id="n8g"><text class="t" x="507" y="5106">背景色半透明</text><path class="u" d="M493 5114H675"/><use href="#m" x="666" y="5099"/></g>
<g id="n8g1"><text class="t" x="695" y="5054" textLength="319">background: rgba(0,0,0,0.3)</text><path class="u" d="M680 5062H1032"/></g>
<g id="n8g2"><text class="t" x="695" y="5090" textLength="544">最后一个参数是 alpha 透明度，取值范围在 0~1之间</text><path class="u" d="M680 5098H1253"/></g>
<g id="n8g3"><text class="t" x="695" y="5125" textLength="741">我们习惯把 0.3 的 0 省略掉，写为 background: rgba(0, 0, 0, .3);</text><path class="u" d="M680 5133H1451"/></g>
<g id="n8g4"><text class="t" x="695" y="5160">背景半透明是指盒子背景半透明，盒子里面的内容不受影响</text><path class="u" d="M680 5168H1304"/></g>
</g>

<text x="1865" y="5176" font-family="Noto Sans CJK SC, sans-serif" font-size="21" fill="#B5B5B5">CSDN @在等星星呐</text>
</g>
</svg>
